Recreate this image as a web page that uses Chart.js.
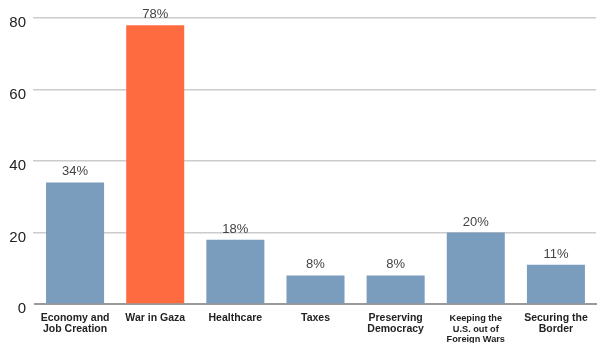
<!DOCTYPE html>
<html>
<head>
<meta charset="utf-8">
<script src="https://cdn.jsdelivr.net/npm/chart.js@4/dist/chart.umd.min.js"></script>
<style>
  html, body { margin: 0; padding: 0; background: #fff; }
  #wrap { width: 601px; height: 343px; }
</style>
</head>
<body>
<div id="wrap"><canvas id="c" width="601" height="343"></canvas></div>
<script>
// Issue categories (multi-line labels) and share of respondents (%)
const categories = [
  ["Economy and", "Job Creation"],
  ["War in Gaza"],
  ["Healthcare"],
  ["Taxes"],
  ["Preserving", "Democracy"],
  ["Keeping the", "U.S. out of", "Foreign Wars"],
  ["Securing the", "Border"]
];
const shares = [34, 78, 18, 8, 8, 20, 11];
const highlightIndex = 1;
const yTicks = [0, 20, 40, 60, 80];

const BLUE = "#7a9cbd";
const ORANGE = "#ff6b40";

// Percent labels drawn above each bar
const valueLabels = {
  id: "valueLabels",
  afterDatasetsDraw(chart) {
    const ctx = chart.ctx;
    const meta = chart.getDatasetMeta(0);
    ctx.save();
    ctx.font = "13px 'Liberation Sans', Arial, sans-serif";
    ctx.fillStyle = "#444";
    ctx.textAlign = "center";
    ctx.textBaseline = "alphabetic";
    meta.data.forEach((bar, i) => {
      ctx.fillText(shares[i] + "%", bar.x, bar.y - 7);
    });
    ctx.restore();
  }
};

new Chart(document.getElementById("c"), {
  type: "bar",
  data: {
    labels: categories,
    datasets: [{
      data: shares,
      backgroundColor: shares.map((_, i) => i === highlightIndex ? ORANGE : BLUE),
      borderWidth: 0,
      barPercentage: 0.724,
      categoryPercentage: 1.0
    }]
  },
  options: {
    responsive: false,
    animation: false,
    devicePixelRatio: 1,
    layout: { padding: { top: 18, right: 5, left: 0, bottom: 0 } },
    plugins: {
      legend: { display: false },
      tooltip: { enabled: false }
    },
    scales: {
      x: {
        grid: { display: false },
        border: { display: true, color: "#9a9a9a", width: 2 },
        ticks: {
          autoSkip: false,
          maxRotation: 0,
          padding: 1,
          color: "#222",
          font: (c) => ({
            family: "'Liberation Sans', Arial, sans-serif",
            weight: "bold",
            size: c.index === 5 ? 9.2 : 10.5,
            lineHeight: c.index === 5 ? 1.17 : 1.05
          })
        },
        afterFit: (scale) => { scale.height = 39; }
      },
      y: {
        min: 0,
        max: 80,
        afterBuildTicks: (scale) => { scale.ticks = yTicks.map(v => ({ value: v })); },
        border: { display: false },
        grid: {
          color: (c) => c.tick && c.tick.value === 0 ? "rgba(0,0,0,0)" : "#cccccc",
          lineWidth: 1.5,
          drawTicks: true,
          tickLength: 2
        },
        ticks: {
          color: "#222",
          padding: 7,
          labelOffset: 5,
          font: { family: "'Liberation Sans', Arial, sans-serif", size: 15 }
        },
        afterFit: (scale) => { scale.width = 35; }
      }
    }
  },
  plugins: [valueLabels]
});
</script>
</body>
</html>
